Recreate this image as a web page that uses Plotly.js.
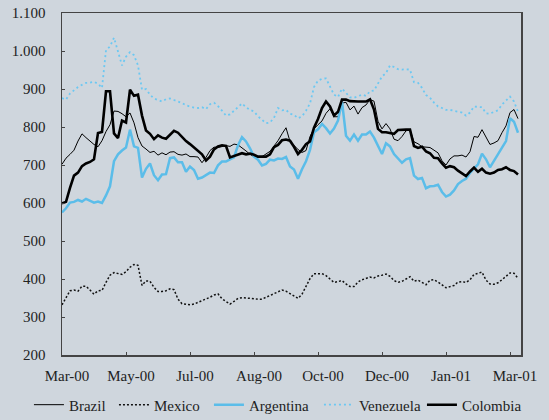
<!DOCTYPE html>
<html>
<head>
<meta charset="utf-8">
<script src="https://cdn.plot.ly/plotly-3.0.1.min.js"></script>
<style>html,body{margin:0;padding:0;background:#cfd6dd;}#chart{width:549px;height:420px;}</style>
</head>
<body>
<div id="chart"></div>
<script>
// Weekly-ish observation index (Mar-00 .. Mar-01)
const obsIndex = Array.from({length: 115}, (_, i) => i);
const tickPositions = [0, 16, 32, 48, 64, 80, 96, 112];
const tickLabels = ["Mar-00", "May-00", "Jul-00", "Aug-00", "Oct-00", "Dec-00", "Jan-01", "Mar-01"];
const yTickVals = [200, 300, 400, 500, 600, 700, 800, 900, 1000, 1100];
const yTickText = ["200", "300", "400", "500", "600", "700", "800", "900", "1.000", "1.100"];

const brazil = [702,718,728,739,763,782,772,762,754,748,764,788,806,842,841,835,827,837,811,772,
750,742,733,736,726,732,727,734,735,728,726,729,722,722,721,706,720,738,747,746,
749,751,749,755,753,746,737,728,722,721,722,729,736,750,764,782,798,762,751,741,
733,738,775,795,806,816,836,848,827,827,863,865,845,855,834,851,858,872,868,815,
795,809,795,768,764,775,790,793,761,756,748,747,746,739,732,711,700,716,724,724,
726,721,735,775,773,793,775,754,758,764,785,803,838,846,822];

const mexico = [332,350,369,371,368,381,381,371,360,369,370,391,410,417,415,412,419,431,438,436,
383,395,394,378,367,367,369,374,372,347,335,333,332,334,338,342,346,352,358,361,
348,340,334,341,349,351,350,348,347,347,347,352,355,360,365,371,368,362,354,349,
360,382,401,414,414,414,409,399,391,393,396,387,380,380,392,398,402,405,403,408,
410,413,407,396,391,394,400,406,394,397,391,385,397,398,392,385,377,380,383,392,
393,391,398,412,415,418,397,387,386,390,398,407,416,415,402];

const argentina = [575,586,601,603,608,604,611,606,601,604,600,620,644,710,728,738,746,793,749,745,
667,690,704,673,660,675,676,718,720,707,707,682,696,687,664,667,674,680,679,699,
709,709,715,720,752,773,762,744,722,714,699,703,714,712,717,716,721,696,688,664,
689,710,740,786,794,808,797,783,796,817,867,777,764,780,764,780,780,788,772,752,
729,757,749,729,718,706,715,718,672,663,666,639,644,645,648,629,617,622,633,650,
658,664,679,690,702,730,715,694,711,726,745,763,823,814,785];

const venezuela = [876,872,888,897,905,911,916,917,919,914,903,1002,1012,1035,1000,962,985,997,989,962,
898,900,885,875,871,867,873,875,871,868,863,857,853,851,850,852,847,860,864,855,
843,830,833,843,854,862,852,845,841,828,819,810,812,824,850,844,845,835,832,823,
828,843,862,905,922,927,928,908,885,879,901,890,878,877,880,885,882,894,896,916,
933,942,962,958,952,951,952,951,918,916,903,884,877,864,854,850,845,845,843,840,
838,830,838,854,852,852,836,835,840,844,859,869,880,867,840];

const colombia = [599,603,640,672,680,697,704,708,715,784,787,894,894,783,771,817,812,898,882,885,
830,791,782,768,778,772,769,779,790,785,774,763,755,746,736,728,712,722,741,749,
752,750,720,724,728,731,728,730,727,722,722,722,728,747,753,765,767,764,748,729,
740,755,762,798,821,850,867,854,830,840,872,872,868,867,867,867,867,873,846,795,
786,786,783,782,792,793,793,793,750,745,748,736,731,719,718,704,693,697,694,685,
677,671,683,693,682,690,680,677,680,687,689,694,687,684,675];

const seriesNames = ["Brazil", "Mexico", "Argentina", "Venezuela", "Colombia"];
const seriesData = [brazil, mexico, argentina, venezuela, colombia];
const seriesStyle = [
  {color: "#000000", width: 1, dash: "solid"},
  {color: "#111111", width: 1.5, dash: "2px,2px"},
  {color: "#5bbde9", width: 2.5, dash: "solid"},
  {color: "#6cc8f2", width: 1.8, dash: "2px,3px"},
  {color: "#000000", width: 2.6, dash: "solid"}
];
const legendWidths = [40, 50, 65, 58, 58];

const traces = seriesNames.map((name, k) => ({
  type: "scatter",
  mode: "lines",
  name: name,
  x: obsIndex,
  y: seriesData[k],
  line: seriesStyle[k],
  legendwidth: legendWidths[k],
  hoverinfo: "skip"
}));

const fontFamily = "Liberation Serif, Times New Roman, serif";
const layout = {
  width: 549,
  height: 420,
  paper_bgcolor: "#cfd6dd",
  plot_bgcolor: "#cfd6dd",
  margin: {l: 62, r: 28, t: 13, b: 65, autoexpand: false},
  font: {family: fontFamily, size: 15, color: "#222"},
  showlegend: true,
  legend: {
    orientation: "h",
    x: -0.072, xanchor: "left", xref: "paper",
    y: -0.146, yanchor: "middle", yref: "paper",
    bgcolor: "rgba(0,0,0,0)",
    font: {family: fontFamily, size: 15, color: "#222"},
    itemwidth: 30,
    tracegroupgap: 0
  },
  xaxis: {
    range: [0, 114.75],
    tickmode: "array",
    tickvals: tickPositions,
    ticktext: tickLabels,
    ticks: "inside",
    ticklen: 3,
    tickcolor: "#444",
    ticklabelshift: 5,
    ticklabelstandoff: 6,
    showgrid: false,
    zeroline: false,
    showline: true,
    linecolor: "#444",
    linewidth: 1.5,
    mirror: true,
    tickfont: {family: fontFamily, size: 15, color: "#222"},
    fixedrange: true
  },
  yaxis: {
    range: [200, 1100],
    tickmode: "array",
    tickvals: yTickVals,
    ticktext: yTickText,
    ticks: "inside",
    ticklen: 3,
    tickcolor: "#444",
    ticklabelstandoff: 12,
    showgrid: false,
    zeroline: false,
    showline: true,
    linecolor: "#444",
    linewidth: 1.5,
    mirror: true,
    tickfont: {family: fontFamily, size: 15, color: "#222"},
    fixedrange: true
  }
};

Plotly.newPlot("chart", traces, layout, {displayModeBar: false, staticPlot: true});
</script>
</body>
</html>
